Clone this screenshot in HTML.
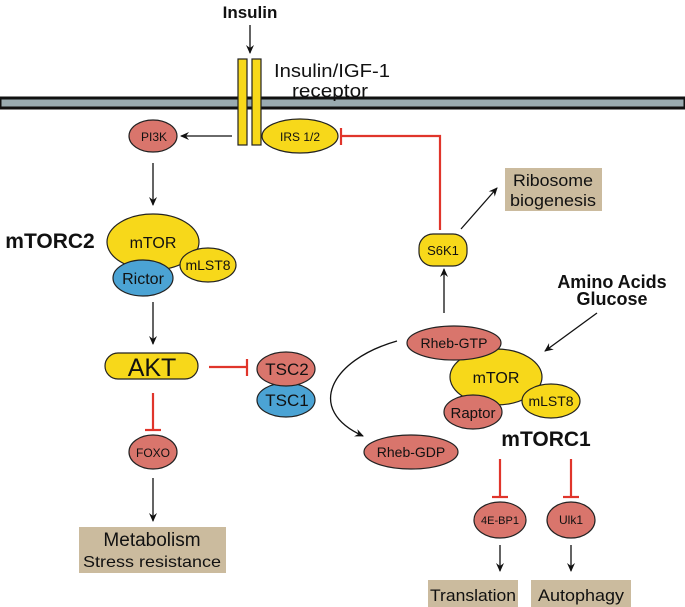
<!DOCTYPE html>
<html><head><meta charset="utf-8"><style>
html,body{margin:0;padding:0;background:#fff;}
svg{display:block;}
text{font-family:"Liberation Sans",sans-serif;fill:#111;}
</style></head><body>
<svg width="685" height="607" viewBox="0 0 685 607" xmlns="http://www.w3.org/2000/svg">
<defs>
<marker id="a" markerWidth="10" markerHeight="10" refX="8" refY="5" orient="auto" markerUnits="userSpaceOnUse">
<path d="M0,1 L9,5 L0,9 L3,5 Z" fill="#111"/></marker>
</defs>
<g stroke="#222" stroke-width="1.2">
<rect x="0" y="98" width="685" height="10" fill="#9aabb0" stroke="#111" stroke-width="3"/>
<rect x="238" y="59" width="9" height="86" fill="#f7d81a" stroke="#222"/>
<rect x="252" y="59" width="9" height="86" fill="#f7d81a" stroke="#222"/>
<ellipse cx="300" cy="136" rx="38" ry="17" fill="#f7d81a"/>
<ellipse cx="153" cy="136" rx="24" ry="16" fill="#d9756c"/>
<rect x="419" y="234" width="48" height="32" rx="14" fill="#f7d81a"/>
<ellipse cx="153" cy="242" rx="46" ry="28" fill="#f7d81a"/>
<ellipse cx="208" cy="265" rx="28" ry="17" fill="#f7d81a"/>
<ellipse cx="143" cy="278" rx="30" ry="18" fill="#4ba3d4"/>
<rect x="105" y="353" width="93" height="26" rx="13" fill="#f7d81a"/>
<ellipse cx="286" cy="400" rx="29" ry="17" fill="#4ba3d4"/>
<ellipse cx="286" cy="369" rx="29" ry="17" fill="#d9756c"/>
<ellipse cx="153" cy="452" rx="24" ry="17" fill="#d9756c"/>
<ellipse cx="496" cy="377" rx="46" ry="28" fill="#f7d81a"/>
<ellipse cx="551" cy="401" rx="29" ry="17" fill="#f7d81a"/>
<ellipse cx="473" cy="412" rx="29" ry="17" fill="#d9756c"/>
<ellipse cx="454" cy="343" rx="47" ry="17" fill="#d9756c"/>
<ellipse cx="411" cy="452" rx="47" ry="17" fill="#d9756c"/>
<ellipse cx="500" cy="520" rx="26" ry="18" fill="#d9756c"/>
<ellipse cx="571" cy="520" rx="24" ry="18" fill="#d9756c"/>
</g>
<rect x="505" y="168" width="97" height="43" fill="#cbbb9e"/>
<rect x="79" y="527" width="147" height="46" fill="#cbbb9e"/>
<rect x="428" y="580" width="90" height="27" fill="#cbbb9e"/>
<rect x="531" y="580" width="100" height="27" fill="#cbbb9e"/>
<g stroke="#111" stroke-width="1.3" fill="none" marker-end="url(#a)">
<line x1="250" y1="25" x2="250" y2="53"/>
<line x1="232" y1="136" x2="181" y2="136"/>
<line x1="153" y1="163" x2="153" y2="205"/>
<line x1="153" y1="302" x2="153" y2="344"/>
<line x1="153" y1="478" x2="153" y2="521"/>
<line x1="461" y1="229" x2="497" y2="188"/>
<line x1="444" y1="313" x2="444" y2="269"/>
<line x1="597" y1="313" x2="545" y2="351"/>
<line x1="500" y1="545" x2="500" y2="571"/>
<line x1="571" y1="545" x2="571" y2="571"/>
<path d="M397,341 C330,360 305,410 363,436"/>
</g>
<g stroke="#e0352b" stroke-width="2.2" fill="none">
<polyline points="341,136 440,136 440,230"/>
<line x1="341" y1="128" x2="341" y2="145"/>
<line x1="209" y1="367" x2="247" y2="367"/>
<line x1="247" y1="359" x2="247" y2="376"/>
<line x1="153" y1="393" x2="153" y2="430"/>
<line x1="145" y1="430" x2="161" y2="430"/>
<line x1="500" y1="459" x2="500" y2="497"/>
<line x1="492" y1="497" x2="508" y2="497"/>
<line x1="571" y1="459" x2="571" y2="497"/>
<line x1="563" y1="497" x2="579" y2="497"/>
</g>
<g text-anchor="middle">
<text x="250" y="18" font-size="17" font-weight="bold">Insulin</text>
<text x="332" y="77" font-size="18" textLength="116" lengthAdjust="spacingAndGlyphs">Insulin/IGF-1</text>
<text x="330" y="97" font-size="18" textLength="76" lengthAdjust="spacingAndGlyphs">receptor</text>
<text x="300" y="141" font-size="12">IRS 1/2</text>
<text x="154" y="141" font-size="12">PI3K</text>
<text x="553" y="186" font-size="17" textLength="80" lengthAdjust="spacingAndGlyphs">Ribosome</text>
<text x="553" y="206" font-size="17" textLength="86" lengthAdjust="spacingAndGlyphs">biogenesis</text>
<text x="50" y="248" font-size="21" font-weight="bold">mTORC2</text>
<text x="153" y="248" font-size="16">mTOR</text>
<text x="208" y="270" font-size="14">mLST8</text>
<text x="143" y="284" font-size="16">Rictor</text>
<text x="443" y="255" font-size="13">S6K1</text>
<text x="612" y="288" font-size="18" font-weight="bold">Amino Acids</text>
<text x="612" y="305" font-size="18" font-weight="bold">Glucose</text>
<text x="454" y="348" font-size="14">Rheb-GTP</text>
<text x="152" y="376" font-size="25">AKT</text>
<text x="287" y="375" font-size="17">TSC2</text>
<text x="287" y="406" font-size="17">TSC1</text>
<text x="496" y="383" font-size="16">mTOR</text>
<text x="551" y="406" font-size="14">mLST8</text>
<text x="473" y="418" font-size="15">Raptor</text>
<text x="546" y="446" font-size="21" font-weight="bold">mTORC1</text>
<text x="153" y="457" font-size="12">FOXO</text>
<text x="411" y="457" font-size="14">Rheb-GDP</text>
<text x="500" y="524" font-size="11">4E-BP1</text>
<text x="571" y="524" font-size="12">Ulk1</text>
<text x="152" y="546" font-size="19">Metabolism</text>
<text x="152" y="567" font-size="16" textLength="138" lengthAdjust="spacingAndGlyphs">Stress resistance</text>
<text x="473" y="601" font-size="17" textLength="86" lengthAdjust="spacingAndGlyphs">Translation</text>
<text x="581" y="601" font-size="17" textLength="86" lengthAdjust="spacingAndGlyphs">Autophagy</text>
</g>
</svg>
</body></html>
